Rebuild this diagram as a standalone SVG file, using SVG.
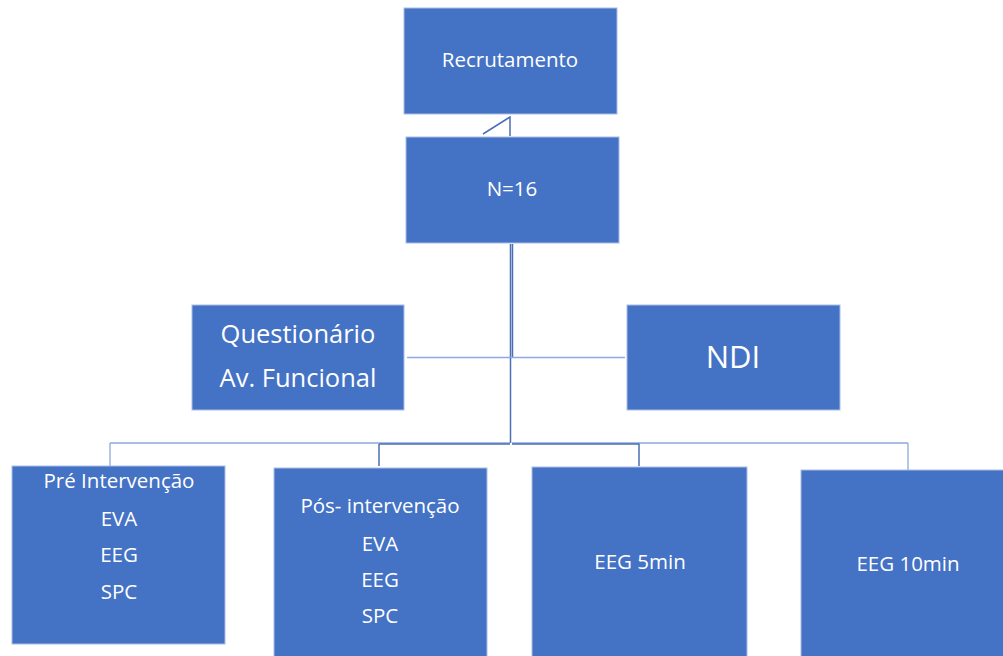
<svg xmlns="http://www.w3.org/2000/svg" width="1003" height="656" viewBox="0 0 1003 656">
<style>
.box{fill:#4472C4;stroke:#A9BEE6;stroke-width:1}
.t{fill:#FFFFFF;font-family:"Open Sans","Noto Sans","Liberation Sans",sans-serif;text-anchor:middle}
.c{fill:none;stroke:#4A6FB5;stroke-width:1.5}
.cl{fill:none;stroke:#8EA9DB;stroke-width:1.3}
</style>
<rect width="1003" height="656" fill="#FFFFFF"/>
<g id="connectors">
<path class="c" d="M483,134 L510,117 L510,136"/>
<path class="c" d="M510.5,244 L510.5,358 M512.5,244 L512.5,358"/>
<path class="cl" d="M407,357.5 L625,357.5"/>
<path class="c" d="M510.5,358 L510.5,443"/>
<path class="cl" d="M110,443 L510,443 M512,443 L908,443"/>
<path class="cl" d="M110,443 L110,466"/>
<path class="c" d="M379,444 L510,444 M379,444 L379,466"/>
<path class="c" d="M512,444 L639,444 L639,466"/>
<path class="cl" d="M908,443 L908,470"/>
</g>
<g id="recrutamento">
<rect class="box" x="404" y="8" width="213" height="106"/>
<text class="t" x="510" y="67" font-size="20.5">Recrutamento</text>
</g>
<g id="n16">
<rect class="box" x="406" y="137" width="213" height="106"/>
<text class="t" x="512" y="196" font-size="20.5">N=16</text>
</g>
<g id="questionario">
<rect class="box" x="192" y="305" width="212" height="105"/>
<text class="t" x="298" y="343" font-size="25.5">Questionário</text>
<text class="t" x="298" y="387" font-size="25.5">Av. Funcional</text>
</g>
<g id="ndi">
<rect class="box" x="627" y="305" width="213" height="105"/>
<text class="t" x="733" y="368" font-size="31">NDI</text>
</g>
<g id="pre">
<rect class="box" x="12" y="466" width="213" height="178"/>
<text class="t" x="119" y="488" font-size="20.5">Pré Intervenção</text>
<text class="t" x="119" y="526" font-size="20.5">EVA</text>
<text class="t" x="119" y="562" font-size="20.5">EEG</text>
<text class="t" x="119" y="599" font-size="20.5">SPC</text>
</g>
<g id="pos">
<rect class="box" x="274" y="468" width="213" height="200"/>
<text class="t" x="380" y="513" font-size="20.5">Pós- intervenção</text>
<text class="t" x="380" y="551" font-size="20.5">EVA</text>
<text class="t" x="380" y="587" font-size="20.5">EEG</text>
<text class="t" x="380" y="623" font-size="20.5">SPC</text>
</g>
<g id="eeg5">
<rect class="box" x="532" y="467" width="215" height="200"/>
<text class="t" x="640" y="569" font-size="20.5">EEG 5min</text>
</g>
<g id="eeg10">
<rect class="box" x="801" y="470" width="215" height="200"/>
<text class="t" x="908" y="571" font-size="20.5">EEG 10min</text>
</g>
</svg>
